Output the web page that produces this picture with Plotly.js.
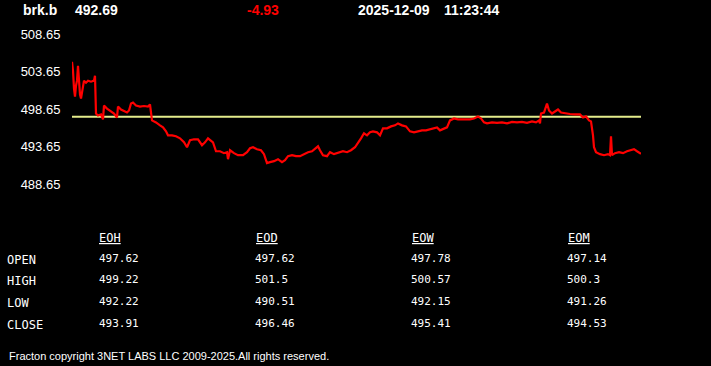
<!DOCTYPE html>
<html>
<head>
<meta charset="utf-8">
<script src="https://cdn.plot.ly/plotly-3.0.1.min.js"></script>
<style>
  html, body { margin: 0; padding: 0; background: #000; }
  #chart { width: 711px; height: 366px; }
</style>
</head>
<body>
<div id="chart"></div>
<script>
// ---- data ----
var symbol = "brk.b";
var lastPrice = "492.69";
var change = "-4.93";
var dateText = "2025-12-09";
var timeText = "11:23:44";
var refLevel = 497.62;

var tIdx = [0,1,2,3,4,5,6,7,8,9,10,12,14,16,19,22,23,24,26,29,31,32,35,39,42,45,46,49,52,55,57,59,61,64,68,72,76,78,80,84,88,91,94,96,100,104,108,112,115,118,122,126,130,133,136,139,141,144,148,152,155,156,158,162,166,171,175,178,181,185,189,192,195,198,202,206,210,213,216,220,224,228,232,236,240,244,246,248,251,255,258,262,266,271,275,279,283,286,289,292,295,298,301,305,308,311,315,319,323,326,330,334,338,342,346,350,354,358,362,365,368,372,375,378,382,386,390,394,398,402,406,409,412,415,420,425,430,435,440,445,450,455,460,464,467,468,469,472,475,477,480,483,486,489,493,498,503,508,511,514,517,519,521,522,524,528,532,536,538,539,540,543,547,551,555,559,562,565,568,569];
var price = [504.94,503.75,501.37,500.31,501.76,502.43,504.41,501.76,500.57,500.04,501.10,502.43,502.16,502.43,502.29,502.43,503.09,498.05,497.79,497.92,497.26,499.11,498.71,498.32,498.05,497.52,498.98,498.58,498.32,498.18,498.45,499.38,499.51,499.11,498.98,499.05,498.98,499.25,497.13,496.86,496.47,496.20,495.67,495.14,495.14,495.01,494.74,494.21,493.55,494.48,494.61,494.61,493.82,494.21,494.74,494.48,494.21,493.02,493.02,492.76,492.89,491.96,493.15,492.76,492.49,492.49,492.89,493.42,493.55,493.29,493.15,492.63,491.43,491.57,491.70,491.96,491.57,491.83,492.36,492.49,492.36,492.36,492.63,492.89,493.02,493.42,493.68,493.15,492.49,492.36,492.89,492.63,492.76,493.02,492.89,493.15,493.55,494.08,494.74,495.41,495.14,495.54,495.67,495.54,495.14,496.07,496.07,496.33,496.47,496.73,496.47,496.33,495.67,495.54,495.67,495.80,495.80,495.94,496.07,496.20,495.80,496.07,496.20,497.13,497.39,497.26,497.26,497.32,497.26,497.39,497.66,497.39,496.86,496.73,496.86,496.80,496.86,496.73,496.93,496.86,496.93,496.80,497.00,496.86,497.13,496.73,498.05,498.18,499.38,498.45,498.05,498.32,498.58,498.18,498.05,497.98,497.92,497.92,497.52,497.66,497.13,497.00,495.14,493.55,492.89,492.63,492.49,492.63,492.49,495.01,492.49,492.76,492.89,492.76,493.02,493.15,493.29,493.02,492.76,492.69];

var yTicks = [508.65, 503.65, 498.65, 493.65, 488.65];

var tableCols = ["EOH", "EOD", "EOW", "EOM"];
var tableRows = ["OPEN", "HIGH", "LOW", "CLOSE"];
var eohVals = ["497.62", "499.22", "492.22", "493.91"];
var eodVals = ["497.62", "501.5", "490.51", "496.46"];
var eowVals = ["497.78", "500.57", "492.15", "495.41"];
var eomVals = ["497.14", "500.3", "491.26", "494.53"];
var footer = "Fracton copyright 3NET LABS LLC 2009-2025.All rights reserved.";

// ---- layout helpers (pixel -> paper) ----
var W = 711, H = 366;
var mL = 72, mR = 70, mT = 34, mB = 182;
var pw = W - mL - mR, ph = H - mT - mB;
function px(x) { return (x - mL) / pw; }
function py(y) { return (H - mB - y) / ph; }

var sans = "Liberation Sans, Arial, sans-serif";
var mono = "DejaVu Sans Mono, monospace";

var ann = [];
function addText(text, x, y, size, color, family) {
  ann.push({
    text: text, xref: "paper", yref: "paper", x: px(x - 2), y: py(y),
    xanchor: "left", yanchor: "middle", showarrow: false,
    font: { family: family, size: size, color: color }
  });
}

addText("<b>" + symbol + "</b>", 23, 10, 14, "#ffffff", sans);
addText("<b>" + lastPrice + "</b>", 75, 10, 14, "#ffffff", sans);
addText("<b>" + change + "</b>", 247, 10, 14, "#ff0000", sans);
addText("<b>" + dateText + "</b>", 358, 10, 14, "#ffffff", sans);
addText("<b>" + timeText + "</b>", 444, 10, 14, "#ffffff", sans);

var colX = [99, 255.5, 411.5, 567.5];
var rowY = [259.5, 280.5, 302.5, 324.5];
var colVals = [eohVals, eodVals, eowVals, eomVals];
for (var c = 0; c < tableCols.length; c++) {
  addText("<u>" + tableCols[c] + "</u>", colX[c], 237.5, 12, "#ffffff", mono);
  for (var r = 0; r < tableRows.length; r++) {
    addText(colVals[c][r], colX[c] - 0.5, rowY[r] - 1, 11, "#ffffff", mono);
  }
}
for (var r2 = 0; r2 < tableRows.length; r2++) {
  addText(tableRows[r2], 6.5, rowY[r2], 12, "#ffffff", mono);
}
addText(footer, 9, 355.5, 11, "#ffffff", sans);

var traces = [
  {
    x: [tIdx[0], tIdx[tIdx.length - 1]],
    y: [refLevel, refLevel],
    mode: "lines", type: "scatter",
    line: { color: "#e4ec8c", width: 2 },
    hoverinfo: "skip"
  },
  {
    x: tIdx, y: price,
    mode: "lines", type: "scatter",
    line: { color: "#ff0000", width: 2.2 },
    hoverinfo: "skip"
  }
];

var layout = {
  width: W, height: H,
  margin: { l: mL, r: mR, t: mT, b: mB, pad: 0 },
  paper_bgcolor: "#000000",
  plot_bgcolor: "#000000",
  showlegend: false,
  xaxis: {
    range: [0, 569], visible: false, showgrid: false, zeroline: false, fixedrange: true
  },
  yaxis: {
    range: [488.65, 508.65],
    tickvals: yTicks,
    ticktext: yTicks.map(function (v) { return v.toFixed(2); }),
    tickfont: { family: sans, size: 13, color: "#ffffff" },
    ticks: "outside", ticklen: 8, tickcolor: "rgba(0,0,0,0)",
    showgrid: false, zeroline: false, showline: false, fixedrange: true
  },
  annotations: ann
};

Plotly.newPlot("chart", traces, layout, { staticPlot: true, displayModeBar: false });
</script>
</body>
</html>
